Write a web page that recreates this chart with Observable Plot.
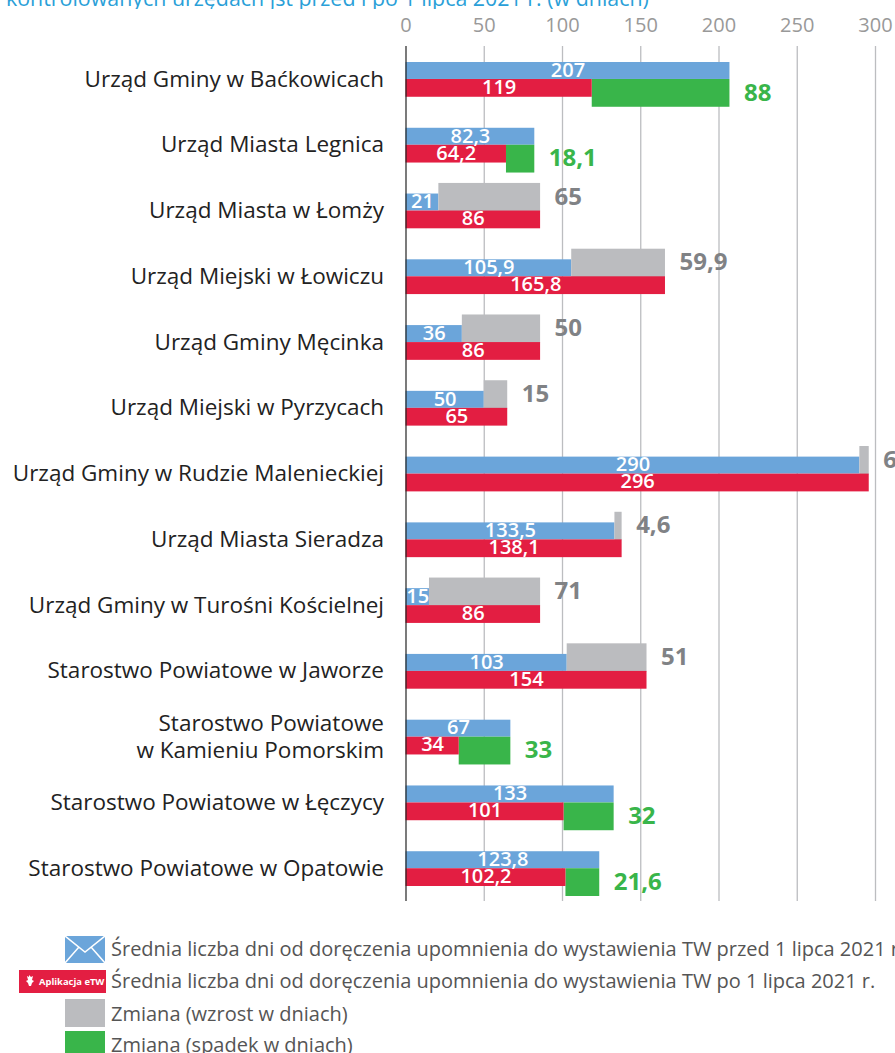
<!DOCTYPE html>
<html lang="pl">
<head>
<meta charset="utf-8">
<script src="https://cdn.jsdelivr.net/npm/d3@7"></script>
<script src="https://cdn.jsdelivr.net/npm/@observablehq/plot@0.6"></script>
<style>
html,body{margin:0;padding:0;background:#fff;width:895px;height:1053px;overflow:hidden;font-family:"Open Sans",sans-serif}
#title{height:9px;overflow:hidden;color:#2a9fd8;font-size:21.4px;line-height:22px;white-space:nowrap;position:relative}
#title span{position:absolute;left:6px;top:-13px}
#chart svg{display:block}
#legend{position:relative;height:138px;color:#555;font-size:20px;white-space:nowrap}
#legend>div{position:absolute;left:111px;line-height:24px}
#legend svg{position:absolute;display:block}
</style>
</head>
<body>
<div id="title"><span>kontrolowanych urzędach jst przed i po 1 lipca 2021 r. (w dniach)</span></div>
<div id="chart"></div>
<div id="legend">
  <svg style="left:65px;top:21px" width="40" height="27" viewBox="0 0 40 27"><rect width="40" height="27" fill="#6ba5da"/><path d="M0 0L20 16L40 0M0 27L14 11M40 27L26 11" fill="none" stroke="#fff" stroke-width="1.5"/></svg>
  <svg style="left:19px;top:55px" width="87" height="23" viewBox="0 0 87 23"><rect width="87" height="23" fill="#e31e42"/><path d="M10 5l2 2 2-1-1 4 2 1-2 2-1 3h-2l-1-3-2-2 2-1-1-4 2 1z" fill="#fff"/><text x="20" y="15" fill="#fff" font-size="9.4" font-weight="700" font-family="'Open Sans'">Aplikacja eTW</text></svg>
  <svg style="left:65px;top:84px" width="40" height="28"><rect width="40" height="28" fill="#bbbcbf"/></svg>
  <svg style="left:65px;top:116px" width="40" height="22"><rect width="40" height="22" fill="#39b54a"/></svg>
  <div style="top:22px">Średnia liczba dni od doręczenia upomnienia do wystawienia TW przed 1 lipca 2021 r.</div>
  <div style="top:54px">Średnia liczba dni od doręczenia upomnienia do wystawienia TW po 1 lipca 2021 r.</div>
  <div style="top:87px">Zmiana (wzrost w dniach)</div>
  <div style="top:118px">Zmiana (spadek w dniach)</div>
</div>
<script>
const offices = [
  "Urząd Gminy w Baćkowicach","Urząd Miasta Legnica","Urząd Miasta w Łomży","Urząd Miejski w Łowiczu",
  "Urząd Gminy Męcinka","Urząd Miejski w Pyrzycach","Urząd Gminy w Rudzie Malenieckiej","Urząd Miasta Sieradza",
  "Urząd Gminy w Turośni Kościelnej","Starostwo Powiatowe w Jaworze","Starostwo Powiatowe\nw Kamieniu Pomorskim",
  "Starostwo Powiatowe w Łęczycy","Starostwo Powiatowe w Opatowie"
];
const before = [207,82.3,21,105.9,36,50,290,133.5,15,103,67,133,123.8];
const after  = [119,64.2,86,165.8,86,65,296,138.1,86,154,34,101,102.2];
const change = [88,18.1,65,59.9,50,15,6,4.6,71,51,33,32,21.6];
const xTicks = [0,50,100,150,200,250,300];

const rows = offices.map((name,i)=>({name,before:before[i],after:after[i],change:change[i],
  lo:Math.min(before[i],after[i]),hi:Math.max(before[i],after[i]),up:after[i]>before[i]}));
const pl = v => String(v).replace(".",",");
const ups = rows.filter(d=>d.up), downs = rows.filter(d=>!d.up);
const FONT = '"Open Sans",sans-serif';
const BLUE="#6ba5da",RED="#e31e42",GREY="#bbbcbf",GREEN="#39b54a";

const plot = Plot.plot({
  width:895,height:906,marginTop:37,marginBottom:14,marginLeft:405.5,marginRight:20,
  style:{fontFamily:FONT,background:"#fff"},
  x:{domain:[0,300],axis:null},
  y:{domain:offices,padding:0,round:false,axis:null},
  marks:[
    Plot.ruleX(xTicks.slice(1),{stroke:"#bcbdc0",strokeWidth:1.3,strokeOpacity:1}),
    Plot.axisX({anchor:"top",ticks:xTicks,tickSize:0,tickPadding:15,fontSize:20,color:"#999",label:null,tickFormat:d=>d}),
    Plot.barX(rows,{x:"before",y:"name",fill:BLUE,insetTop:16,insetBottom:32.8}),
    Plot.barX(ups,{x1:"lo",x2:"hi",y:"name",fill:GREY,insetTop:5.4,insetBottom:32}),
    Plot.barX(downs,{x1:"lo",x2:"hi",y:"name",fill:GREEN,insetTop:33,insetBottom:5}),
    Plot.barX(rows,{x:"after",y:"name",fill:RED,insetTop:33,insetBottom:15}),
    Plot.ruleX([0],{stroke:"#222",strokeWidth:1.2}),
    Plot.axisY({anchor:"left",tickSize:0,tickPadding:22,dy:-1.5,fontSize:22.5,color:"#222",label:null,lineHeight:1.2,textOverflow:null,lineWidth:Infinity}),
    Plot.text(rows,{x:d=>d.before/2,y:"name",text:d=>pl(d.before),fill:"#fff",fontSize:20,fontWeight:600,dy:-9}),
    Plot.text(rows,{x:d=>d.after/2,y:"name",text:d=>pl(d.after),fill:"#fff",fontSize:20,fontWeight:600,dy:8}),
    Plot.text(ups,{x:"hi",y:"name",text:d=>pl(d.change),fill:"#808285",fontSize:24,fontWeight:700,textAnchor:"start",dx:14,dy:-14}),
    Plot.text(downs,{x:"hi",y:"name",text:d=>pl(d.change),fill:GREEN,fontSize:24,fontWeight:700,textAnchor:"start",dx:14,dy:13.5})
  ]
});
document.getElementById("chart").appendChild(plot);
</script>
</body>
</html>
